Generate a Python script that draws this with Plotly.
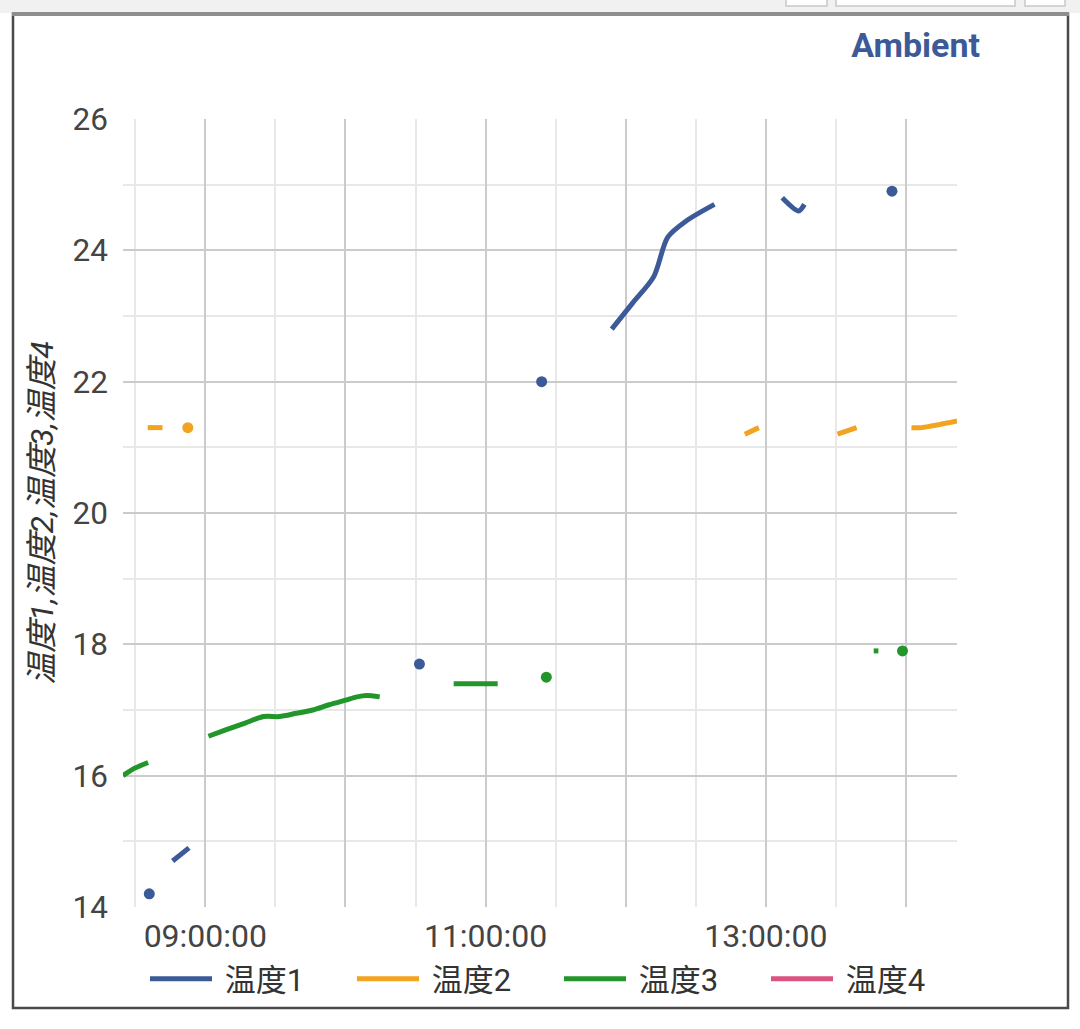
import plotly.graph_objects as go

# ---------------- data ----------------
DAY = "2024-01-01 "

series_names = ["温度1", "温度2", "温度3", "温度4"]
series_colors = ["#3d5a98", "#f2a31f", "#22962b", "#d9557f"]

# None marks a gap in the recording
t1 = ["08:36", None, "08:46", "08:53", None, "10:31:40", None, "11:24", None,
      "11:54", "12:03", "12:12", "12:18", "12:26", "12:38", None,
      "13:07", "13:14", "13:16:30", None, "13:54"]
v1 = [14.2, None, 14.7, 14.9, None, 17.7, None, 22.0, None,
      22.8, 23.2, 23.6, 24.2, 24.45, 24.7, None,
      24.8, 24.6, 24.7, None, 24.9]

t2 = ["08:35:20", "08:41:40", None, "08:52:30", None,
      "12:51", "12:57", None, "13:30:40", "13:38:50", None,
      "14:02:20", "14:06:50", "14:21:50"]
v2 = [21.3, 21.3, None, 21.3, None,
      21.2, 21.3, None, 21.2, 21.3, None,
      21.3, 21.3, 21.4]

t3 = ["08:24:45", "08:29", "08:35:30", None,
      "09:01:20", "09:09", "09:17", "09:25", "09:31:40", "09:39", "09:46",
      "09:53", "10:00", "10:05", "10:09", "10:14:40", None,
      "10:46:20", "10:55", "11:05:10", None, "11:26", None,
      "13:46:10", "13:48:10", None, "13:58:30"]
v3 = [16.0, 16.1, 16.2, None,
      16.6, 16.7, 16.8, 16.9, 16.9, 16.95, 17.0,
      17.08, 17.15, 17.2, 17.22, 17.2, None,
      17.4, 17.4, 17.4, None, 17.5, None,
      17.9, 17.9, None, 17.9]

# 温度4 has no readings in this window
t4 = [None]
v4 = [None]

x_range = ["08:24:45", "14:21:50"]
x_major_ticks = ["09:00", "10:00", "11:00", "12:00", "13:00", "14:00"]
x_tick_text = ["09:00:00", "", "11:00:00", "", "13:00:00", ""]
y_range = [14, 26]

# ---------------- figure ----------------
W, H = 1080, 1029
L, R, T, B = 123, 123, 119, 122
PW, PH = W - L - R, H - T - B


def px(x):
    return (x - L) / PW


def py(y):
    return (H - B - y) / PH


def ts(lst):
    return [DAY + t if t else None for t in lst]


FONT = "Roboto, 'Noto Sans CJK SC', sans-serif"

fig = go.Figure()
all_t = [t1, t2, t3, t4]
all_v = [v1, v2, v3, v4]
for name, color, tt, vv in zip(series_names, series_colors, all_t, all_v):
    fig.add_trace(go.Scatter(
        x=ts(tt), y=vv, name="\u00a0" + name, mode="lines",
        line=dict(color=color, width=5, shape="spline", smoothing=0.8),
        connectgaps=False, legendgroup=name, hoverinfo="skip"))
    # isolated readings drawn as dots
    iso_x, iso_y = [], []
    for i, v in enumerate(vv):
        if v is None:
            continue
        prev_gap = i == 0 or vv[i - 1] is None
        next_gap = i == len(vv) - 1 or vv[i + 1] is None
        if prev_gap and next_gap:
            iso_x.append(DAY + tt[i])
            iso_y.append(v)
    if iso_x:
        fig.add_trace(go.Scatter(
            x=iso_x, y=iso_y, mode="markers", showlegend=False,
            legendgroup=name, marker=dict(color=color, size=11),
            hoverinfo="skip"))

grid_major = "#cbcbcb"
grid_minor = "#e8e8e8"

fig.update_layout(
    width=W, height=H,
    margin=dict(l=L, r=R, t=T, b=B, autoexpand=False),
    paper_bgcolor="white", plot_bgcolor="white",
    font=dict(family=FONT, color="#444444", size=29),
    title=dict(text="<b>Ambient</b>", font=dict(size=34, color="#3d5a98", family=FONT),
               xref="container", x=980 / W, xanchor="right",
               yref="container", y=1 - 45 / H, yanchor="middle"),
    showlegend=True,
    legend=dict(orientation="h", x=px(145), xanchor="left",
                y=py(979), yanchor="middle",
                font=dict(size=31, color="#333333", family=FONT),
                itemwidth=62, entrywidth=130, entrywidthmode="pixels",
                bgcolor="rgba(0,0,0,0)", traceorder="normal"),
    xaxis=dict(
        type="date", range=[DAY + x_range[0], DAY + x_range[1]],
        tickmode="array", tickvals=[DAY + t for t in x_major_ticks], ticktext=x_tick_text,
        showgrid=True, gridcolor=grid_major, gridwidth=2,
        zeroline=False, showline=False, ticks="",
        tickfont=dict(size=32, color="#444444", family=FONT),
        ticklabelstandoff=7,
        minor=dict(dtick=1800000, tick0=DAY + "08:30", showgrid=True,
                   gridcolor=grid_minor, gridwidth=2),
        automargin=False, fixedrange=True),
    yaxis=dict(
        range=y_range, dtick=2, tick0=14,
        showgrid=True, gridcolor=grid_major, gridwidth=2,
        zeroline=False, showline=False, ticks="",
        tickfont=dict(size=31.5, color="#444444", family=FONT),
        ticklabelstandoff=14,
        minor=dict(dtick=1, showgrid=True, gridcolor=grid_minor, gridwidth=2),
        title=dict(text="温度1,温度2,温度3,温度4", standoff=9,
                   font=dict(size=32, color="#333333", family=FONT, style="italic")),
        automargin=False, fixedrange=True),
)

# window frame decoration
shapes = [
    dict(type="rect", xref="paper", yref="paper", x0=px(0), x1=px(W), y0=py(13), y1=py(0),
         fillcolor="#f1f1f1", line=dict(width=0), layer="below"),
    dict(type="rect", xref="paper", yref="paper", x0=px(786), x1=px(827), y0=py(6), y1=py(-6),
         fillcolor="white", line=dict(color="#c8c8c8", width=1.5)),
    dict(type="rect", xref="paper", yref="paper", x0=px(836), x1=px(1015), y0=py(6), y1=py(-6),
         fillcolor="white", line=dict(color="#c8c8c8", width=1.5)),
    dict(type="rect", xref="paper", yref="paper", x0=px(1025), x1=px(1065), y0=py(6), y1=py(-6),
         fillcolor="white", line=dict(color="#c8c8c8", width=1.5)),
    dict(type="rect", xref="paper", yref="paper", x0=px(13), x1=px(1068), y0=py(1008), y1=py(14),
         fillcolor="rgba(0,0,0,0)", line=dict(color="#4a4a4a", width=2.5)),
    dict(type="line", xref="paper", yref="paper", x0=px(12), x1=px(1069), y0=py(14), y1=py(14),
         line=dict(color="#8e8e8e", width=4)),
]
fig.update_layout(shapes=shapes)

fig.write_html("out.html", config=dict(displayModeBar=False),
               post_script="document.body.style.margin='0';document.body.style.overflow='hidden';")
